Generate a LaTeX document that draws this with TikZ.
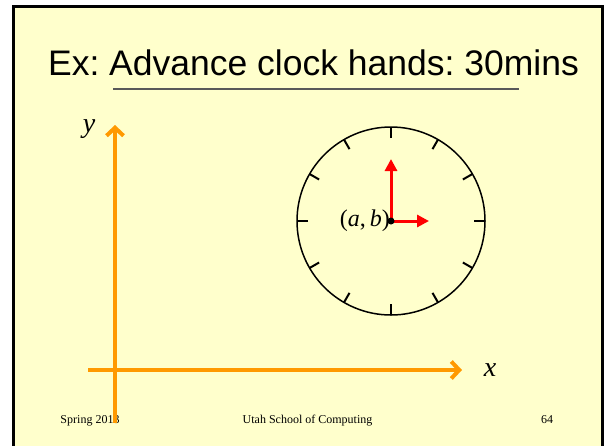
\documentclass[tikz,border=0pt]{standalone}
\usepackage{fontspec}
\setmainfont{Liberation Serif}
\newfontfamily\slidesans{Liberation Sans}
\usetikzlibrary{arrows.meta,calc}
\definecolor{slidebg}{HTML}{FFFFCC}
\definecolor{axisorange}{HTML}{FF9900}
\frenchspacing

\begin{document}
\begin{tikzpicture}[x=1pt,y=-1pt,
        frame/.style={draw=black, fill=slidebg, line width=3pt},
        axis/.style={draw=axisorange, line width=4pt, -{Straight Barb[length=8pt,width=17pt]}},
        hand/.style={draw=red, line width=3pt, -{Triangle[length=12pt,width=12pt]}},
        clocktick/.style={draw=black, line width=2pt},
        footer/.style={font=\fontsize{12}{14}\selectfont, anchor=base, inner sep=0pt},
        axislabel/.style={font=\fontsize{28}{30}\selectfont\itshape, inner sep=0pt}
    ]
        \useasboundingbox (0,0) rectangle (604,445);
        \fill[white] (0,0) rectangle (604,445);
        \draw[frame] (13.5,6) rectangle (602,460);

        % title
        \node[anchor=base, inner sep=0pt, font=\slidesans\fontsize{35.5}{40}\selectfont] (title) at (313.5,75) {Ex: Advance clock hands: 30mins};
        \coordinate (ulstart) at (113,89);
        \coordinate (ulend) at (519,89);
        \draw[black!65, line width=1.5pt] (ulstart) -- (ulend);

        % footer
        \node[footer] (season) at (90,423) {Spring 2013};
        \node[footer] (school) at (307.5,423) {Utah School of Computing};
        \node[footer] (page) at (547,423) {64};

        % axes
        \coordinate (origin) at (115,370);
        \coordinate (ybottom) at (115,423);
        \coordinate (ytop) at (115,125);
        \coordinate (xleft) at (88,370);
        \coordinate (xright) at (462,370);
        \draw[axis] (ybottom) -- (ytop);
        \draw[axis] (xleft) -- (xright);
        \node[axislabel] (ylabel) at (89,129) {y};
        \node[axislabel] (xlabel) at (490,370) {x};

        % clock
        \coordinate (c) at (391,221);
        \draw[black, line width=1.5pt] (c) circle (94);
        \foreach \a in {0,30,...,330}
            \draw[clocktick] ($(c)+(\a:83)$) -- ($(c)+(\a:94)$);
        \coordinate (minute) at (391,159);
        \coordinate (hour) at (429,221);
        \draw[hand] (c) -- (minute);
        \draw[hand] (c) -- (hour);
        \fill[black] (c) circle (3.5);
        \node[anchor=east, inner sep=1pt, font=\fontsize{24}{26}\selectfont] (centerlabel) at (c) {(\textit{a},\,\textit{b})};
    \end{tikzpicture}
\end{document}
